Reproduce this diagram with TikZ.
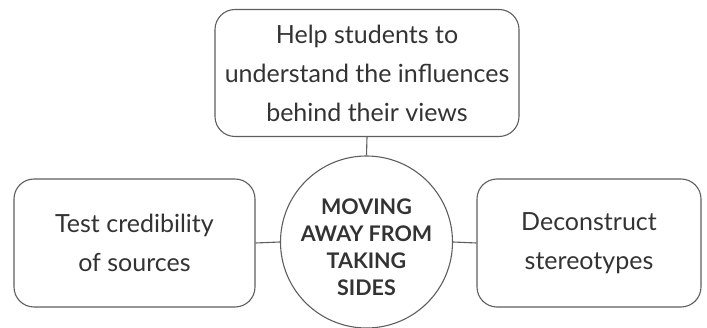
\documentclass[tikz,border=0pt]{standalone}
\usepackage{fontspec}
\setmainfont{Lato}
\begin{document}
\definecolor{linegray}{HTML}{5E5E5E}
\definecolor{textgray}{HTML}{333333}
\begin{tikzpicture}[x=1pt,y=-1pt,
  idea/.style={draw=linegray, line width=1.1pt, rounded corners=20pt, align=center,
    text=textgray, inner sep=0pt, font=\fontsize{25}{39}\selectfont},
  hub/.style={draw=linegray, line width=1.1pt, circle, inner sep=0pt, minimum size=172pt},
  hubtext/.style={align=center, text=textgray, inner sep=0pt,
    font=\bfseries\fontsize{21.5}{27}\selectfont},
  link/.style={draw=linegray, line width=1.1pt}]
\useasboundingbox (0,0) rectangle (707,328);
% central theme
\node[hub] (hub) at (366.5,242) {};
\node[hubtext] (hubtext) at ([yshift=-5pt]hub.center) {MOVING\\AWAY FROM\\TAKING\\SIDES};
% surrounding ideas
\node[idea, minimum width=304pt, minimum height=127pt] (top) at (367,73)
  {Help students to\\understand the influences\\behind their views};
\node[idea, minimum width=241pt, minimum height=128pt] (left) at (134.5,243)
  {Test credibility\\of sources};
\node[idea, minimum width=224pt, minimum height=128pt] (right) at (589,243)
  {Deconstruct\\stereotypes};
% connectors
\draw[link] (top.south) -- (hub.north);
\draw[link] (left.east) -- (hub.west);
\draw[link] (hub.east) -- (right.west);
\end{tikzpicture}
\end{document}
